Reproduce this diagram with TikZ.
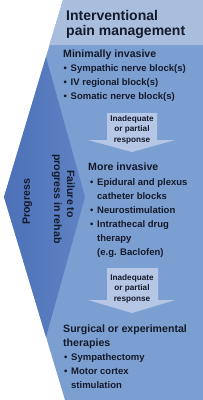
\documentclass[tikz,border=0pt]{standalone}
\usepackage{fontspec}
\setmainfont{Liberation Sans}
\usepackage{xcolor}
\usetikzlibrary{positioning}
\definecolor{panelblue}{HTML}{7C9FD2}
\definecolor{headblue}{HTML}{A9BEDD}
\definecolor{stepblue}{HTML}{B5C7E4}
\definecolor{edgeblue}{HTML}{4D71B7}
\definecolor{glowblue}{HTML}{BCCCE7}
\definecolor{tipblue}{HTML}{5F83C4}
\definecolor{ink}{HTML}{141A2A}
\newcommand{\itemdot}{\makebox[7pt][l]{•}}

\begin{document}
\begin{tikzpicture}[x=1pt, y=-1pt, txt/.style={anchor=base west, inner sep=0, text=ink, font=\bfseries\fontsize{9.5}{11}\selectfont}, head/.style={txt, font=\bfseries\fontsize{10.6}{12}\selectfont}, title/.style={txt, font=\bfseries\fontsize{14}{15}\selectfont}, side/.style={anchor=base west, inner sep=0, text=ink, font=\bfseries\fontsize{10.6}{13}\selectfont}, note/.style={anchor=north, inner sep=0, text=ink, align=center, font=\bfseries\fontsize{8.2}{10.5}\selectfont}, downstep/.style={fill=stepblue}]
\useasboundingbox (0,0) rectangle (203,400);
% panel and header band
\fill[panelblue] (63,0) -- (203,0) -- (203,400) -- (65,400) -- (4,197) -- cycle;
\fill[headblue] (63,0) -- (203,0) -- (203,45) -- (49.5,45) -- cycle;
% double chevron on the left
\shade[left color=edgeblue, middle color=glowblue, right color=tipblue] (46,57) -- (85,197) -- (46,337) -- (4,197) -- cycle;
\node[side, rotate=90] (progress) at (30,225) {Progress};
\node[side, rotate=-90] (failure) at (67,170) {Failure to};
\node[side, rotate=-90] (rehab) at (54,154) {progress in rehab};
% header
\node[title] (title) at (66,20) {Interventional};
\node[title] (title2) at (66,35) {pain management};
% minimally invasive
\node[head] (minimal) at (63,57) {Minimally invasive};
\node[txt] (sympathic) at (63.5,71) {\itemdot Sympathic nerve block(s)};
\node[txt] (regional) at (63.5,85) {\itemdot IV regional block(s)};
\node[txt] (somatic) at (63.5,99) {\itemdot Somatic nerve block(s)};
% first step down
\fill[downstep] (107,113) -- (157,113) -- (157,140) -- (175,140) -- (132,152) -- (88,140) -- (107,140) -- cycle;
\node[note] (response1) at (132,115) {Inadequate\\or partial\\response};
% more invasive
\node[head] (more) at (88,170) {More invasive};
\node[txt] (epidural) at (90,185) {\itemdot Epidural and plexus};
\node[txt] (catheter) at (97,199) {catheter blocks};
\node[txt] (neuro) at (90,213) {\itemdot Neurostimulation};
\node[txt] (intrathecal) at (90,227) {\itemdot Intrathecal drug};
\node[txt] (therapy) at (97,241) {therapy};
\node[txt] (baclofen) at (97,255) {(e.g. Baclofen)};
% second step down
\fill[downstep] (107,268) -- (158,268) -- (158,300) -- (175,300) -- (132,313) -- (88,300) -- (107,300) -- cycle;
\node[note] (response2) at (132,274) {Inadequate\\or partial\\response};
% surgical or experimental
\node[head] (surgical) at (63,332) {Surgical or experimental};
\node[head] (therapies) at (63,346) {therapies};
\node[txt] (sympathectomy) at (64,360) {\itemdot Sympathectomy};
\node[txt] (motor) at (64,374) {\itemdot Motor cortex};
\node[txt] (stimulation) at (71,388) {stimulation};
\end{tikzpicture}
\end{document}
